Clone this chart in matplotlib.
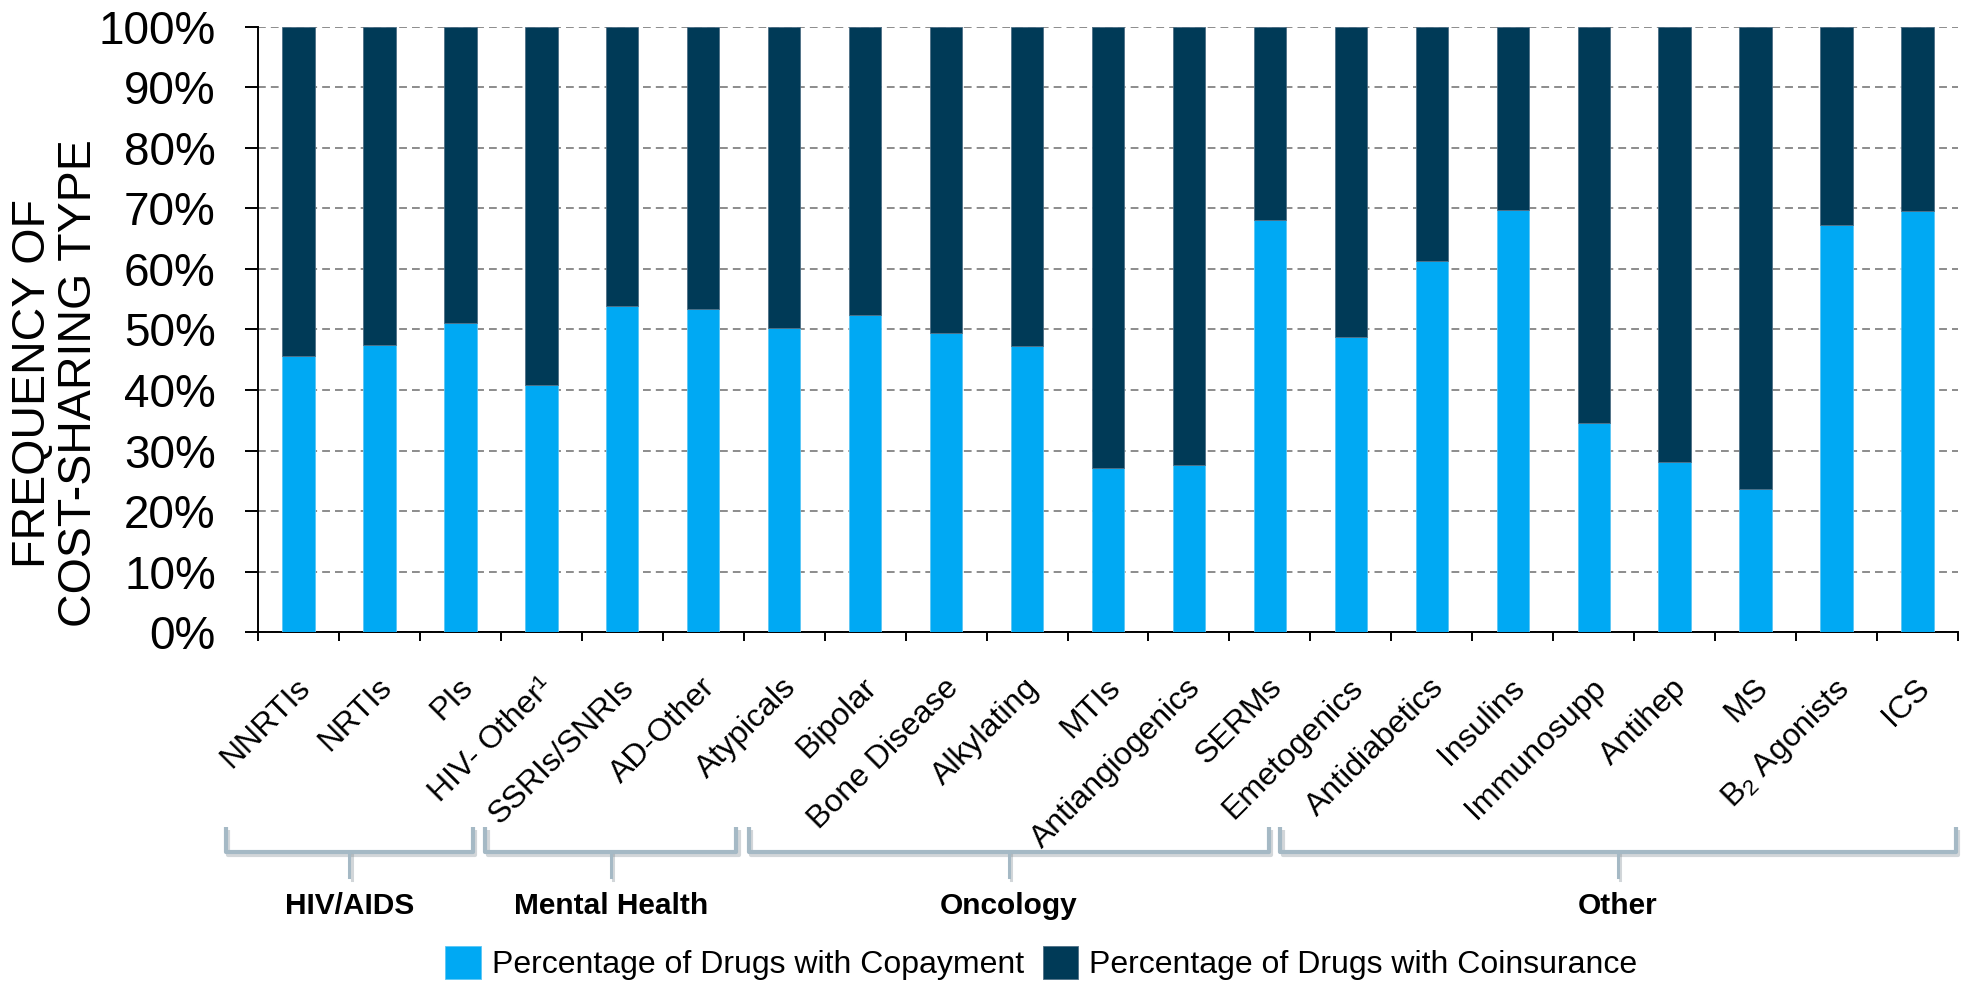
import numpy as np
import matplotlib
matplotlib.use('Agg')
import matplotlib.pyplot as plt
import matplotlib.patheffects as pe
from matplotlib import transforms
from matplotlib.ticker import MultipleLocator, PercentFormatter

plt.rcParams['font.family'] = ['Liberation Sans', 'DejaVu Sans']
plt.rcParams['mathtext.fontset'] = 'custom'
plt.rcParams['mathtext.rm'] = 'Liberation Sans'

# drug classes and share of drugs by cost-sharing type (%)
drug_classes = ['NNRTIs', 'NRTIs', 'PIs', 'HIV- Other\u00b9', 'SSRIs/SNRIs', 'AD-Other',
                'Atypicals', 'Bipolar', 'Bone Disease', 'Alkylating', 'MTIs',
                'Antiangiogenics', 'SERMs', 'Emetogenics', 'Antidiabetics', 'Insulins',
                'Immunosupp', 'Antihep', 'MS', 'B$_\\mathregular{2}$ Agonists', 'ICS']
copay = [45.7, 47.4, 51.0, 40.8, 53.9, 53.4, 50.3, 52.4, 49.5, 47.3, 27.1,
         27.7, 68.1, 48.8, 61.3, 69.8, 34.6, 28.1, 23.6, 67.3, 69.5]
coins = [54.3, 52.6, 49.0, 59.2, 46.1, 46.6, 49.7, 47.6, 50.5, 52.7, 72.9,
         72.3, 31.9, 51.2, 38.7, 30.2, 65.4, 71.9, 76.4, 32.7, 30.5]

group_names = ['HIV/AIDS', 'Mental Health', 'Oncology', 'Other']
# bracket extents under the labels, in category units
group_spans = [(-0.90, 2.16), (2.31, 5.41), (5.56, 11.99), (12.13, 20.47)]

COPAY = '#00A9F3'
COINS = '#003A57'
BRACE = '#A5B9C5'

W, H = 1965, 982
fig = plt.figure(figsize=(W / 100, H / 100), dpi=100)
ax = fig.add_axes([258 / W, 1 - 632.3 / H, 1700 / W, 605.6 / H])

x = np.arange(len(drug_classes))
ax.bar(x, copay, width=0.4, color=COPAY, edgecolor='#5CC6F5', linewidth=0.6,
       label='Percentage of Drugs with Copayment', zorder=3)
ax.bar(x, coins, bottom=copay, width=0.4, color=COINS, edgecolor='#4F6F86',
       linewidth=0.6, label='Percentage of Drugs with Coinsurance', zorder=3)

ax.set_xlim(-0.5, len(drug_classes) - 0.5)
ax.set_ylim(0, 100)
ax.yaxis.set_major_locator(MultipleLocator(10))
ax.yaxis.set_major_formatter(PercentFormatter(decimals=0))
ax.grid(axis='y', linestyle=(0, (4, 2.6)), color='#8C8C8C', linewidth=1.4)
ax.set_axisbelow(True)

for side in ['top', 'right']:
    ax.spines[side].set_visible(False)
for side in ['left', 'bottom']:
    ax.spines[side].set_linewidth(1.4)

ax.tick_params(axis='y', length=9.4, width=1.4, pad=21, labelsize=33)

ax.set_xticks(x)
ax.set_xticklabels(drug_classes, rotation=45, ha='right', va='top',
                   rotation_mode='anchor', fontsize=23)
ax.tick_params(axis='x', which='major', length=0, pad=29)
ax.set_xticks(np.arange(-0.5, len(drug_classes)), minor=True)
ax.tick_params(axis='x', which='minor', length=6.8, width=1.4)
shift = transforms.ScaledTranslation(-3 / 100, 0, fig.dpi_scale_trans)
for lbl in ax.get_xticklabels():
    lbl.set_transform(lbl.get_transform() + shift)

fig.text(56 / W, 1 - 383 / H, 'FREQUENCY OF\nCOST-SHARING TYPE', rotation=90,
         ha='center', va='center', multialignment='center', fontsize=33.5,
         linespacing=1.08)

# group brackets below the category labels
bt = transforms.blended_transform_factory(ax.transData, fig.transFigure)
y_top, y_bar, y_tip, y_txt = 1 - 827 / H, 1 - 852 / H, 1 - 877 / H, 1 - 906 / H
shadow = [pe.SimpleLineShadow(offset=(1.5, -2.5), shadow_color='#7f8c94', alpha=0.35),
          pe.Normal()]
for name, (x0, x1) in zip(group_names, group_spans):
    xc = (x0 + x1) / 2
    ax.plot([x0, x0, x1, x1], [y_top, y_bar, y_bar, y_top], transform=bt,
            color=BRACE, lw=3.0, solid_joinstyle='round', solid_capstyle='butt',
            clip_on=False, path_effects=shadow)
    ax.plot([xc, xc], [y_bar, y_tip], transform=bt, color=BRACE, lw=2.2,
            clip_on=False, path_effects=shadow)
    ax.text(xc, y_txt, name, transform=bt, ha='center', va='center',
            fontsize=21.5, fontweight='bold')

handles, labels = ax.get_legend_handles_labels()
fig.legend(handles, labels, loc='center', bbox_to_anchor=(0.530, 1 - 963 / H),
           ncol=2, frameon=False, fontsize=23, handlelength=1.1, handleheight=1.25,
           handletextpad=0.35, columnspacing=0.6, borderaxespad=0, borderpad=0)

fig.savefig('out.png', dpi=100)
